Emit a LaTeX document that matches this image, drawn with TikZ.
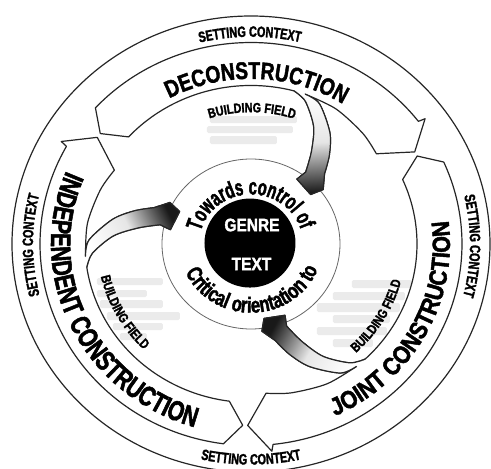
\documentclass[tikz,border=0pt]{standalone}
\usepackage{fontspec}
\newfontfamily\fnS[FakeStretch=0.64,FakeBold=1.8]{Liberation Sans Bold}
\newfontfamily\fnT[FakeStretch=0.72,FakeBold=1.8]{Liberation Sans Bold}
\newfontfamily\fnA[FakeStretch=0.75,FakeBold=1.8]{Liberation Sans Bold}
\newfontfamily\fnB[FakeStretch=0.8,FakeBold=1.8]{Liberation Sans Bold}
\newfontfamily\fnC[FakeStretch=0.86,FakeBold=1.8]{Liberation Sans Bold}
\usetikzlibrary{decorations.text}
\tikzset{
  outl/.style={draw=black!85, line width=1.2pt, line join=round},
  ctext/.style={decorate, decoration={text along path, text align=center, text={#1}}},
  gbar/.style={fill=gray!16, rounded corners=1.5pt},
  gt/.style={text=white, inner sep=0pt, font=\fnC\fontsize{18}{18}\selectfont}
}
\newcommand\sbar[4]{\fill[gbar] ({#1-251},{(244-#2)/0.955}) rectangle ({#3-251},{(244-#4)/0.955});}
\newcommand\bfpath{(\cu:166) -- plot[smooth] coordinates {(\cu:166) ({\cu-6}:162) ({\cu-15}:141) ({\cu-21}:122) ({\cu-26}:104)} -- ({\cu-32.7}:92) -- ({\cu-30}:79) -- ({\cu-15}:82) -- plot[smooth] coordinates {({\cu-17}:93) ({\cu-13}:114) ({\cu-8}:138) ({\cu-1}:159) ({\cu+4}:166)}}
\newcommand\cycarrow[3]{%
  \pgfmathsetmacro\cu{#1}%
  \pgfmathsetmacro\ta{#2}%
  \pgfmathsetmacro\tb{#2-5}%
  \pgfmathsetmacro\hb{#1-33.5}%
  \pgfmathsetmacro\ia{#1+4}%
  \filldraw[outl, fill=white] (\ta:190) -- (\tb:211) -- plot[domain=\tb:\hb, samples=90] (\x:211)
    -- ({\cu-34}:218) -- ({\cu-40.5}:190) -- ({\cu-34}:157)
    -- plot[smooth] coordinates {({\cu-34}:157) ({\cu-25}:161) ({\cu-12}:165) (\cu:166)}
    -- plot[smooth] coordinates {(\cu:166) ({\cu-6}:162) ({\cu-15}:141) ({\cu-21}:122) ({\cu-26}:104)}
    -- ({\cu-32.7}:92) -- ({\cu-30}:79) -- ({\cu-15}:82)
    -- plot[smooth] coordinates {({\cu-17}:93) ({\cu-13}:114) ({\cu-8}:138) ({\cu-1}:159) ({\cu+4}:166)}
    -- plot[domain=\ia:\tb, samples=90] (\x:166) -- cycle;
  \shade[top color=white, bottom color=black!90, middle color=white!90!black, shading angle=#3] \bfpath -- cycle;
  \draw[outl] \bfpath;
}
\begin{document}
\begin{tikzpicture}[x=1pt, y=0.955pt]
\useasboundingbox (-251,-234.6) rectangle (240,255.5);
% outer ring
\draw[outl] (0,0) ellipse [x radius=239pt, y radius=228pt];
% inner circle and core
\draw[draw=black!60, line width=0.8pt] (0,0) ellipse [x radius=89pt, y radius=85pt];
\fill[black] (-1,1) ellipse [x radius=45.5pt, y radius=44.5pt];
% blurred notes
\sbar{210}{116}{297}{123}\sbar{207}{126}{293}{133}\sbar{210}{136}{277}{144}
\sbar{352}{280}{412}{288}\sbar{333}{292}{405}{300}\sbar{317}{303}{400}{312}
\sbar{333}{315}{390}{323}\sbar{317}{327}{387}{335}\sbar{333}{339}{373}{347}
\sbar{97}{278}{163}{285}\sbar{97}{290}{147}{297}\sbar{100}{300}{163}{308}
\sbar{107}{312}{180}{320}\sbar{113}{323}{163}{330}\sbar{120}{333}{147}{340}
% three cycle arrows
\cycarrow{71}{142.5}{3}
\cycarrow{-50.5}{29}{241.5}
\cycarrow{184.5}{267.5}{116.5}
% setting context
\path[ctext={|\fnT\fontsize{15}{15}\selectfont|SETTING CONTEXT}] plot[domain=135.3:45.3, samples=60] (\x:217);
\path[ctext={|\fnT\fontsize{15}{15}\selectfont|SETTING CONTEXT}] plot[domain=44.5:-45.5, samples=60] (\x:219);
\path[ctext={|\fnT\fontsize{15}{15}\selectfont|SETTING CONTEXT}] plot[domain=225.3:135.3, samples=60] (\x:218);
\path[ctext={|\fnT\fontsize{15}{15}\selectfont|SETTING CONTEXT}] plot[domain=225:315, samples=60] (\x:231);
% stage names
\path[ctext={|\fnB\fontsize{24}{24}\selectfont|DECONSTRUCTION}] plot[domain=148:28, samples=80] (\x:173);
\path[ctext={|\fnC\fontsize{25}{25}\selectfont|JOINT CONSTRUCTION}] plot[domain=-88.5:31.5, samples=80] (\x:199);
\path[ctext={|\fnA\fontsize{28}{28}\selectfont|INDEPENDENT CONSTRUCTION}] plot[domain=140.3:270.3, samples=90] (\x:200);
% building field
\path[ctext={|\fnB\fontsize{13.5}{13.5}\selectfont|BUILDING FIELD}] plot[domain=129.6:49.6, samples=60] (\x:138);
\path[ctext={|\fnB\fontsize{13.5}{13.5}\selectfont|BUILDING FIELD}] plot[domain=-70.5:9.5, samples=60] (\x:155);
\path[ctext={|\fnB\fontsize{13.5}{13.5}\selectfont|BUILDING FIELD}] plot[domain=169:249, samples=60] (\x:154);
% inner ring texts
\path[ctext={|\fnS\fontsize{23}{23}\selectfont|Towards control of}] plot[domain=181:1, samples=60] (\x:52);
\path[ctext={|\fnA\fontsize{22}{22}\selectfont|Critical orientation to}] plot[domain=181.5:361.5, samples=60] (\x:72);
% core
\node[gt] (genre) at (1,19.9) {GENRE};
\node[gt] (text) at (0.5,-20.9) {TEXT};
\end{tikzpicture}
\end{document}
